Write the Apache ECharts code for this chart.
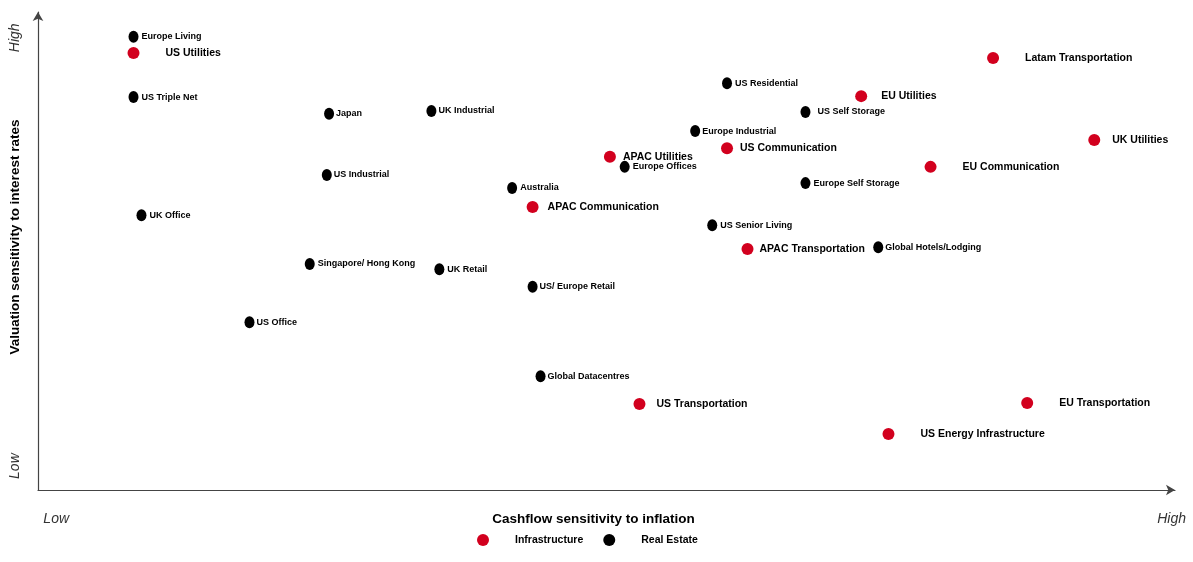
<!DOCTYPE html>
<html>
<head>
<meta charset="utf-8">
<script src="https://cdn.jsdelivr.net/npm/echarts@6/dist/echarts.min.js"></script>
<style>html,body{margin:0;padding:0;background:#fff}#c{width:1193px;height:562px}</style>
</head>
<body>
<div id="c"></div>
<script>
// ---- data (x: cashflow sensitivity to inflation 0-100, y: valuation sensitivity to interest rates 0-100)
const infraNames = ['US Utilities','APAC Utilities','APAC Communication','US Communication','EU Utilities','Latam Transportation','UK Utilities','EU Communication','APAC Transportation','US Transportation','US Energy Infrastructure','EU Transportation'];
const infraX = [8.4, 50.3, 43.5, 60.6, 72.4, 84.0, 92.9, 78.5, 62.4, 52.9, 74.8, 87.0];
const infraY = [91.4, 69.7, 59.2, 71.5, 82.4, 90.4, 73.2, 67.6, 50.4, 18.0, 11.7, 18.2];

const reNames = ['Europe Living','US Triple Net','Japan','UK Industrial','US Industrial','UK Office','Singapore/ Hong Kong','UK Retail','US/ Europe Retail','US Office','Global Datacentres','Australia','Europe Offices','Europe Industrial','US Residential','US Self Storage','Europe Self Storage','US Senior Living','Global Hotels/Lodging'];
const reX = [8.4, 8.4, 25.6, 34.6, 25.4, 9.1, 23.9, 35.3, 43.5, 18.6, 44.2, 41.7, 51.6, 57.8, 60.6, 67.5, 67.5, 59.3, 73.9];
const reY = [94.8, 82.2, 78.7, 79.3, 65.9, 57.5, 47.3, 46.2, 42.5, 35.1, 23.8, 63.2, 67.6, 75.1, 85.1, 79.1, 64.2, 55.4, 50.8];

const xTickValues = [1.6, 99.7];
const xTickLabels = ['Low', 'High'];
const yTickValues = [5.0, 94.6];
const yTickLabels = ['Low', 'High'];

// ---- styling
const infraLabelDist = [26, 7, 9, 7, 14, 26, 12, 26, 6, 11, 26, 26];
const reLabelDist = [3, 3, 2, 2, 2, 3, 3, 3, 2, 2, 2, 3, 3, 2, 3, 7, 3, 3, 2];
const RED = '#d2001e';
const NARROW = 'Liberation Sans Narrow, Arial Narrow, Liberation Sans, Arial, sans-serif';
const SANS = 'Liberation Sans, Arial, sans-serif';

const infraData = infraNames.map((n, i) => ({
  name: n, value: [infraX[i], infraY[i]],
  label: { distance: infraLabelDist[i] }
}));
const reData = reNames.map((n, i) => ({
  name: n, value: [reX[i], reY[i]],
  label: { distance: reLabelDist[i] }
}));

const chart = echarts.init(document.getElementById('c'));
chart.setOption({
  animation: false,
  grid: { left: 38, right: 18, top: 12, bottom: 72, outerBoundsMode: 'none', containLabel: false },
  legend: {
    left: 472, top: 529,
    itemWidth: 12, itemHeight: 12, itemGap: 20,
    textStyle: { fontFamily: NARROW, fontWeight: 'bold', fontSize: 10.5, color: '#000', padding: [0, 0, 0, 21] },
    data: [{ name: 'Infrastructure', icon: 'circle', itemStyle: { color: RED, opacity: 1 } }, { name: 'Real Estate', icon: 'circle', itemStyle: { color: '#000', opacity: 1 } }]
  },
  xAxis: {
    type: 'value', min: 0, max: 100,
    name: 'Cashflow sensitivity to inflation', nameLocation: 'middle', nameGap: 22, nameMoveOverlap: false,
    nameTextStyle: { fontFamily: SANS, fontWeight: 'bold', fontSize: 13.5, color: '#000', padding: [0, 26, 0, 0] },
    axisLine: { show: true, symbol: ['none', 'arrow'], symbolSize: [8, 9], lineStyle: { color: '#444', width: 1.2 } },
    axisTick: { show: false },
    splitLine: { show: false },
    axisLabel: {
      customValues: xTickValues, margin: 22,
      formatter: (v) => xTickLabels[xTickValues.indexOf(v)],
      fontFamily: SANS, fontStyle: 'italic', fontSize: 14, color: '#333'
    }
  },
  yAxis: {
    type: 'value', min: 0, max: 100,
    name: 'Valuation sensitivity to interest rates', nameLocation: 'middle', nameGap: 16, nameMoveOverlap: false,
    nameTextStyle: { fontFamily: SANS, fontWeight: 'bold', fontSize: 13.5, color: '#000', padding: [0, 0, 0, 28] },
    axisLine: { show: true, symbol: ['none', 'arrow'], symbolSize: [8, 9], lineStyle: { color: '#444', width: 1.2 } },
    axisTick: { show: false },
    splitLine: { show: false },
    axisLabel: {
      customValues: yTickValues, rotate: 90, margin: 16,
      formatter: (v) => yTickLabels[yTickValues.indexOf(v)],
      fontFamily: SANS, fontStyle: 'italic', fontSize: 14, color: '#333'
    }
  },
  series: [
    {
      name: 'Infrastructure', type: 'scatter', symbol: 'circle', symbolSize: 12,
      itemStyle: { color: RED, opacity: 1 },
      label: { show: true, position: 'right', formatter: '{b}', fontFamily: SANS, fontWeight: 'bold', fontSize: 10.5, color: '#000' },
      data: infraData
    },
    {
      name: 'Real Estate', type: 'scatter', symbol: 'circle', symbolSize: [10, 12],
      itemStyle: { color: '#000', opacity: 1 },
      label: { show: true, position: 'right', formatter: '{b}', fontFamily: NARROW, fontWeight: 'bold', fontSize: 9, color: '#000' },
      data: reData
    }
  ]
});
</script>
</body>
</html>
